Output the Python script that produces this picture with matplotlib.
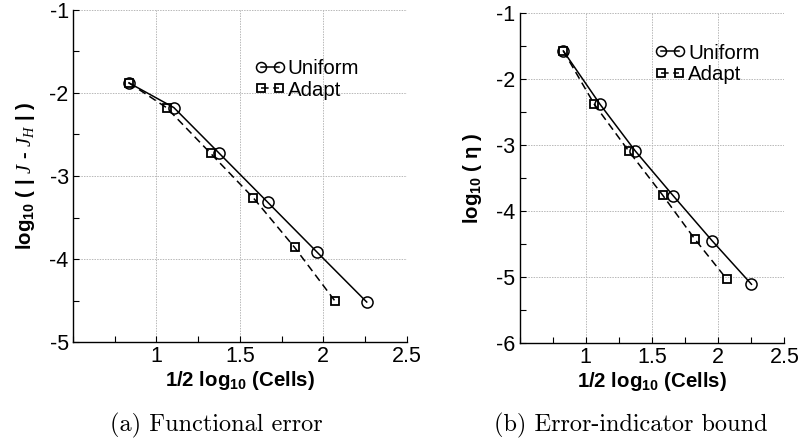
import matplotlib
matplotlib.use("Agg")
import matplotlib.pyplot as plt
from matplotlib.ticker import MultipleLocator, FixedLocator, FormatStrFormatter

plt.rcParams['font.family'] = ['Liberation Sans', 'DejaVu Sans']
plt.rcParams['axes.unicode_minus'] = False
plt.rcParams['mathtext.fontset'] = 'custom'
plt.rcParams['mathtext.rm'] = 'Liberation Sans'
plt.rcParams['mathtext.bf'] = 'Liberation Sans:bold'
plt.rcParams['mathtext.it'] = 'Liberation Serif:italic'

# Panel (a): functional error
unif_x_a = [0.836, 1.105, 1.376, 1.666, 1.964, 2.260]
unif_y_a = [-1.881, -2.178, -2.726, -3.314, -3.919, -4.516]
adapt_x_a = [0.836, 1.062, 1.326, 1.582, 1.828, 2.070]
adapt_y_a = [-1.881, -2.180, -2.730, -3.266, -3.859, -4.504]

# Panel (b): error-indicator bound
unif_x_b = [0.831, 1.108, 1.374, 1.660, 1.956, 2.252]
unif_y_b = [-1.571, -2.379, -3.086, -3.763, -4.450, -5.106]
adapt_x_b = [0.831, 1.065, 1.324, 1.580, 1.825, 2.066]
adapt_y_b = [-1.571, -2.379, -3.086, -3.753, -4.424, -5.030]

xticks = [1, 1.5, 2, 2.5]
series_labels = ['Uniform', 'Adapt']

fig = plt.figure(figsize=(8, 4.46), dpi=100)
ax1 = fig.add_axes([0.091, 0.2325, 0.4175, 0.746])
ax2 = fig.add_axes([0.6494, 0.2303, 0.331, 0.740])

def style(ax, ylim, legend_anchor):
    ax.set_xlim(0.5, 2.5)
    ax.set_ylim(*ylim)
    ax.xaxis.set_major_locator(FixedLocator(xticks))
    ax.xaxis.set_minor_locator(MultipleLocator(0.25))
    ax.yaxis.set_major_locator(MultipleLocator(1))
    ax.yaxis.set_minor_locator(MultipleLocator(0.5))
    ax.xaxis.set_major_formatter(FormatStrFormatter('%g'))
    ax.yaxis.set_major_formatter(FormatStrFormatter('%g'))
    ax.grid(True, which='major', color='#b8b8b8', linestyle=(0, (1.5, 1.2)), linewidth=0.7)
    ax.set_axisbelow(True)
    for s in ['top', 'right']:
        ax.spines[s].set_visible(False)
    for s in ['left', 'bottom']:
        ax.spines[s].set_linewidth(1.0)
    ax.tick_params(which='both', direction='in', labelsize=15.5, length=4, width=0.8,
                   top=False, right=False, pad=3)
    ax.set_xlabel(r'1/2 log$_{\mathbf{10}}$ (Cells)', fontsize=14.7, fontweight='bold', labelpad=1)
    leg = ax.legend(loc='upper left', bbox_to_anchor=legend_anchor, frameon=False,
                    numpoints=2, handlelength=1.48, handletextpad=0.12,
                    labelspacing=0.12, borderpad=0, borderaxespad=0, fontsize=14.7,
                    markerscale=0.9)
    return leg

for ax, ux, uy, axx, ay in [(ax1, unif_x_a, unif_y_a, adapt_x_a, adapt_y_a),
                            (ax2, unif_x_b, unif_y_b, adapt_x_b, adapt_y_b)]:
    ax.plot(ux, uy, '-', color='black', lw=1.1, marker='o', ms=8,
            mfc='none', mec='black', mew=1.1, label=series_labels[0])
    ax.plot(axx, ay, '--', color='black', lw=1.1, marker='s', ms=6,
            mfc='none', mec='black', mew=1.3, dashes=(5, 3), label=series_labels[1])

style(ax1, (-5, -1), (0.546, 0.851))
style(ax2, (-6, -1), (0.513, 0.908))

ax1.set_ylabel(r'log$_{\mathbf{10}}$ ( | $J$ - $J_H$ | )', fontsize=14.7, fontweight='bold', labelpad=9)
ax2.set_ylabel(r'log$_{\mathbf{10}}$ ( η )', fontsize=14.7, fontweight='bold', labelpad=9)

fig.text(0.271, 0.047, '(a) Functional error', fontsize=17.5, family='cmr10', ha='center', va='center')
fig.text(0.788, 0.047, '(b) Error-indicator bound', fontsize=17.5, family='cmr10', ha='center', va='center')

fig.savefig('out.png', dpi=100)
